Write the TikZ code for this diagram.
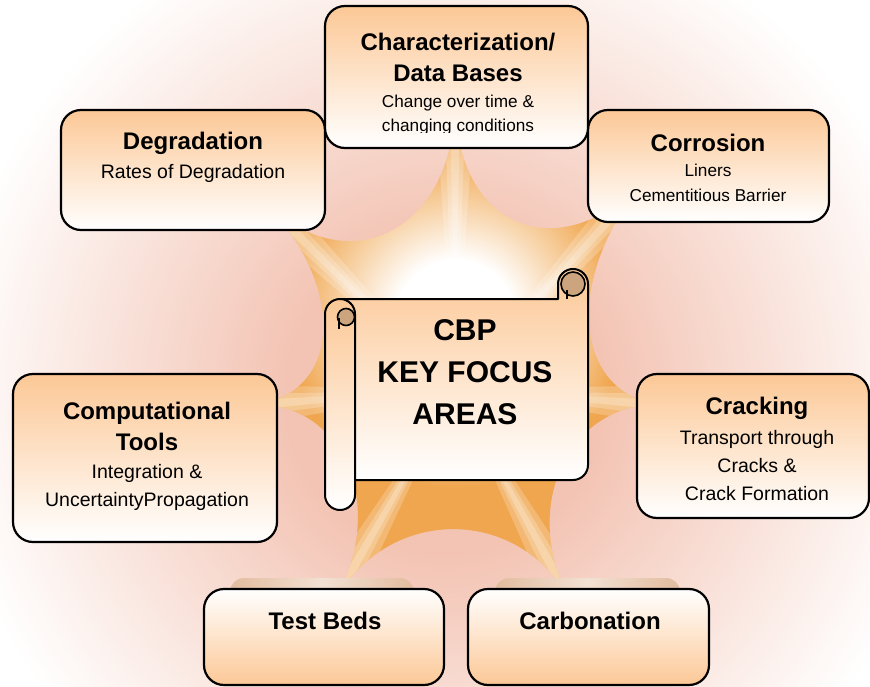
\documentclass[tikz,border=0pt]{standalone}
\usepackage{fontspec}
\setmainfont{Liberation Sans}
\usetikzlibrary{calc}

\definecolor{peach}{RGB}{252,200,150}
\definecolor{starorange}{RGB}{240,166,78}
\definecolor{glowpink}{RGB}{243,196,180}
\definecolor{curltan}{RGB}{204,164,126}
\definecolor{shelftan}{RGB}{226,188,158}

\pgfdeclareradialshading{bgglow}{\pgfpoint{0bp}{0bp}}{color(0bp)=(glowpink); color(8bp)=(glowpink); color(25bp)=(white); color(50bp)=(white)}
\pgfdeclareradialshading{starglow}{\pgfpoint{0bp}{0bp}}{color(0bp)=(white); color(5bp)=(white); color(14bp)=(starorange); color(50bp)=(starorange)}

\begin{document}
\begin{tikzpicture}[
  x=1pt, y=-1pt,
  box/.style={draw, line width=2.2pt, rounded corners=20pt, inner sep=0pt},
  topbox/.style={box, top color=peach, bottom color=white},
  lowbox/.style={box, top color=white, bottom color=peach},
  title/.style={font=\fontsize{24}{31}\selectfont\bfseries, align=center, inner sep=0pt},
  sub/.style={font=\fontsize{19.5}{28}\selectfont, align=center, inner sep=0pt},
  smallsub/.style={font=\fontsize{17.2}{24.5}\selectfont, align=center, inner sep=0pt},
  scroll/.style={draw, line width=2pt, line join=round},
  curl/.style={draw, line width=1.6pt, fill=curltan}
]
  \useasboundingbox (0,0) rectangle (870,687);

  % Background glow
  \begin{scope}
    \clip (0,0) rectangle (870,687);
    \shade[shading=bgglow] (445,395) circle[radius=500];
  \end{scope}

  % Seven-point star
  \coordinate (c) at (455,390);
  \coordinate (t1) at (455,100);
  \coordinate (t2) at (650,175);
  \coordinate (t3) at (665,405);
  \coordinate (t4) at (570,600);
  \coordinate (t5) at (335,600);
  \coordinate (t6) at (250,405);
  \coordinate (t7) at (262,200);
  \begin{scope}
    \clip (t1) .. controls ($(t1)!0.45!(c)$) and ($(t2)!0.45!(c)$) .. (t2)
         .. controls ($(t2)!0.45!(c)$) and ($(t3)!0.45!(c)$) .. (t3)
         .. controls ($(t3)!0.45!(c)$) and ($(t4)!0.45!(c)$) .. (t4)
         .. controls ($(t4)!0.45!(c)$) and ($(t5)!0.45!(c)$) .. (t5)
         .. controls ($(t5)!0.45!(c)$) and ($(t6)!0.45!(c)$) .. (t6)
         .. controls ($(t6)!0.45!(c)$) and ($(t7)!0.45!(c)$) .. (t7)
         .. controls ($(t7)!0.45!(c)$) and ($(t1)!0.45!(c)$) .. (t1) -- cycle;
    \shade[shading=starglow] (455,320) circle[radius=300];
    \foreach \i in {1,...,7}
      \foreach \w in {20pt,11pt,5pt}
        \fill[white, opacity=0.22] (c) -- ($(t\i)!\w!90:(c)$) -- ($(t\i)!\w!-90:(c)$) -- cycle;
  \end{scope}

  % Shelves behind the lower boxes
  \shade[left color=shelftan, right color=shelftan, middle color=shelftan!45, rounded corners=14pt]
    (230,578) rectangle (414,612);
  \shade[left color=shelftan, right color=shelftan, middle color=shelftan!45, rounded corners=14pt]
    (495,578) rectangle (680,612);

  % Focus area boxes
  \node[topbox, minimum width=264pt, minimum height=120pt] (degr) at (193,170) {};
  \node[topbox, minimum width=241pt, minimum height=112pt] (corr) at (708.5,166) {};
  \node[topbox, minimum width=263pt, minimum height=142pt] (charz) at (456.5,77) {};
  \node[topbox, minimum width=264pt, minimum height=168pt] (comp) at (145,458) {};
  \node[topbox, minimum width=232pt, minimum height=144pt] (crack) at (753,446) {};
  \node[lowbox, minimum width=240pt, minimum height=96pt] (test) at (324,637) {};
  \node[lowbox, minimum width=241pt, minimum height=96pt] (carb) at (588.5,637) {};

  % Scroll
  \draw[scroll, top color=peach, bottom color=white]
    (340,299) -- (558,299) -- (558,284) arc[start angle=180, end angle=360, radius=15]
    -- (588,465) arc[start angle=0, end angle=90, radius=15] -- (340,480) -- cycle;
  \filldraw[curl] (573,284) circle[radius=12];
  \draw[line width=1.6pt] (567,299) -- (567,290);
  \draw[scroll, top color=peach, bottom color=white]
    (325,314) arc[start angle=180, end angle=360, radius=15]
    -- (355,495) arc[start angle=0, end angle=180, radius=15] -- cycle;
  \filldraw[curl] (346,317) circle[radius=8.5];
  \draw[line width=1.6pt] (339,318) -- (339,329);

  % Texts
  \node[font=\fontsize{30}{42}\selectfont\bfseries, align=center, inner sep=0pt] (focus)
    at (465,372) {CBP\\KEY FOCUS\\AREAS};
  \node[title] (degrt) at (193,143) {Degradation};
  \node[sub] (degrs) at (193,173) {Rates of Degradation};
  \node[title] (charzt) at (458,57) {Characterization/\\Data Bases};
  \begin{scope}
    \clip (330,0) rectangle (585,133);
    \node[smallsub] (charzs) at (458,115) {Change over time \&\\changing conditions};
  \end{scope}
  \node[title] (corrt) at (708,143) {Corrosion};
  \node[smallsub] (corrs) at (708,183) {Liners\\Cementitious Barrier};
  \node[title] (compt) at (147,426) {Computational\\Tools};
  \node[sub] (comps) at (147,487) {Integration \&\\UncertaintyPropagation};
  \node[title] (crackt) at (757,408) {Cracking};
  \node[sub] (cracks) at (757,466) {Transport through\\Cracks \&\\Crack Formation};
  \node[title] (testt) at (325,621) {Test Beds};
  \node[title] (carbt) at (590,621) {Carbonation};
\end{tikzpicture}
\end{document}
